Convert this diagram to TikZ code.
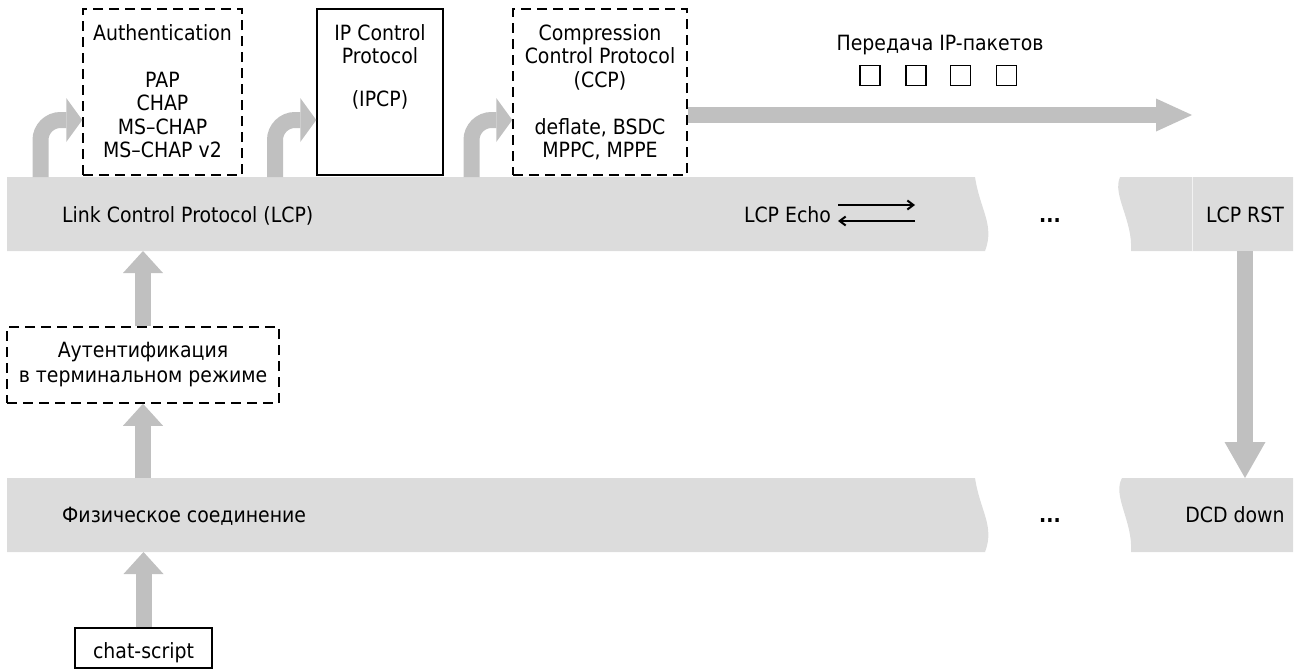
\documentclass[tikz,border=0pt]{standalone}
\usepackage{fontspec}
\setmainfont{DejaVu Sans}[FakeStretch=0.9]
\usetikzlibrary{arrows.meta}
\definecolor{bandc}{gray}{0.863}
\definecolor{arrc}{gray}{0.753}
\tikzset{
  txt/.style={inner sep=0pt, anchor=base, font=\fontsize{21}{23.5}\selectfont},
  dbox/.style={draw, dash pattern=on 10pt off 6pt, line width=1.5pt, inner sep=0pt},
  sbox/.style={draw, line width=1.5pt, inner sep=0pt},
  ghost/.style={inner sep=0pt, outer sep=0pt},
  uparrow/.style={draw=arrc, line width=16pt, -{Triangle[length=22pt,width=40pt,line width=0pt]}},
  downarrow/.style={draw=arrc, line width=16pt, -{Triangle[length=36pt,width=41pt,line width=0pt]}},
  bigarrow/.style={draw=arrc, line width=16pt, -{Triangle[length=36pt,width=33pt,line width=0pt]}},
  curvarrow/.style={draw=arrc, line width=16pt, -{Triangle[length=16pt,width=44pt,line width=0pt]}},
  echoarrow/.style={draw=black, line width=2pt, -{Straight Barb[length=6pt,width=9pt]}},
  pkt/.style={draw, line width=1.6pt, minimum size=20pt, inner sep=0pt},
}
\begin{document}
\begin{tikzpicture}[x=1pt,y=-1pt]
\useasboundingbox (0,0) rectangle (1298,670);

% bands
\fill[bandc] (7,177) -- (975,177) .. controls (980,210) and (995,225) .. (985,251) -- (7,251) -- cycle;
\fill[bandc] (1120,177) -- (1293,177) -- (1293,251) -- (1131,251) .. controls (1133,220) and (1112,195) .. (1120,177) -- cycle;
\draw[gray!10, line width=1pt] (1192,177) -- (1192,251);
\fill[bandc] (7,478) -- (975,478) .. controls (980,511) and (995,526) .. (985,552) -- (7,552) -- cycle;
\fill[bandc] (1122,478) -- (1293,478) -- (1293,552) -- (1131,552) .. controls (1133,521) and (1112,496) .. (1122,478) -- cycle;

% band anchors
\node[ghost, minimum width=968pt, minimum height=74pt] (lcp) at (491,214) {};
\node[ghost, minimum width=173pt, minimum height=74pt] (lcpR) at (1206.5,214) {};
\node[ghost, minimum width=968pt, minimum height=74pt] (phys) at (491,515) {};
\node[ghost, minimum width=173pt, minimum height=74pt] (physR) at (1206.5,515) {};

% boxes
\node[dbox, minimum width=159pt, minimum height=166pt] (auth) at (162.5,92) {};
\node[sbox, minimum width=126pt, minimum height=166pt] (ipcp) at (380,92) {};
\node[dbox, minimum width=174pt, minimum height=166pt] (ccp) at (600,92) {};
\node[dbox, minimum width=272pt, minimum height=76pt] (term) at (143,365) {};
\node[sbox, minimum width=137pt, minimum height=40pt] (chat) at (143.5,648) {};

% box texts
\node[txt] (authtxt) at (162.5,40) {\parbox[t]{155pt}{\centering Authentication\\[23.5pt]PAP\\CHAP\\MS–CHAP\\MS–CHAP v2}};
\node[txt] (ipcptxt) at (380,40) {\parbox[t]{120pt}{\centering IP Control\\Protocol\\[19pt](IPCP)}};
\node[txt] (ccptxt) at (600,40) {\parbox[t]{170pt}{\centering Compression\\Control Protocol\\(CCP)\\[23.5pt]deflate, BSDC\\MPPC, MPPE}};
\node[txt] (termtxt) at (143,357) {\parbox[t]{265pt}{\fontsize{21}{25}\selectfont\centering Аутентификация\\в терминальном режиме}};
\node[txt] (chattxt) at (143.5,658) {chat-script};

% band texts
\node[txt, anchor=base west] (lcptxt) at (62,222) {Link Control Protocol (LCP)};
\node[txt] (echo) at (787.5,222) {LCP Echo};
\node[txt, font=\fontsize{21}{23.5}\selectfont\bfseries] (dots1) at (1050,222) {...};
\node[txt] (rst) at (1245,222) {LCP RST};
\node[txt, anchor=base west] (phystxt) at (62,522) {Физическое соединение};
\node[txt, font=\fontsize{21}{23.5}\selectfont\bfseries] (dots2) at (1050,522) {...};
\node[txt] (dcd) at (1235,522) {DCD down};

% packets
\node[txt] (pkttxt) at (940,50) {Передача IP-пакетов};
\node[pkt] (p1) at (870,75.5) {};
\node[pkt] (p2) at (916,75.5) {};
\node[pkt] (p3) at (960.5,75.5) {};
\node[pkt] (p4) at (1006.5,75.5) {};

% echo arrows
\coordinate (e1s) at (838,205);
\coordinate (e1e) at (915,205);
\coordinate (e2s) at (915,221);
\coordinate (e2e) at (838,221);
\draw[echoarrow] (e1s) -- (e1e);
\draw[echoarrow] (e2s) -- (e2e);

% vertical arrows
\draw[uparrow] (term.north) -- (term.north |- lcp.south);
\draw[uparrow] (term.north |- phys.north) -- (term.south);
\draw[uparrow] (chat.north) -- (chat.north |- phys.south);
\draw[downarrow] ([xshift=38.5pt]lcpR.south) -- ([xshift=38.5pt]physR.north);

% curved arrows
\coordinate (c1) at (40.5,177);
\coordinate (c2) at (275,177);
\coordinate (c3) at (471.5,177);
\draw[curvarrow] (c1) -- (40.5,140) .. controls (40.5,129) and (49.5,120) .. (60.5,120) -- ([yshift=-28pt]auth.west);
\draw[curvarrow] (c2) -- (275,140) .. controls (275,129) and (284,120) .. (295,120) -- ([yshift=-28pt]ipcp.west);
\draw[curvarrow] (c3) -- (471.5,140) .. controls (471.5,129) and (480.5,120) .. (491.5,120) -- ([yshift=-28pt]ccp.west);

% packet flow arrow
\coordinate (pktend) at (1192,115);
\draw[bigarrow] ([yshift=-23pt]ccp.east) -- (pktend);
\end{tikzpicture}
\end{document}
